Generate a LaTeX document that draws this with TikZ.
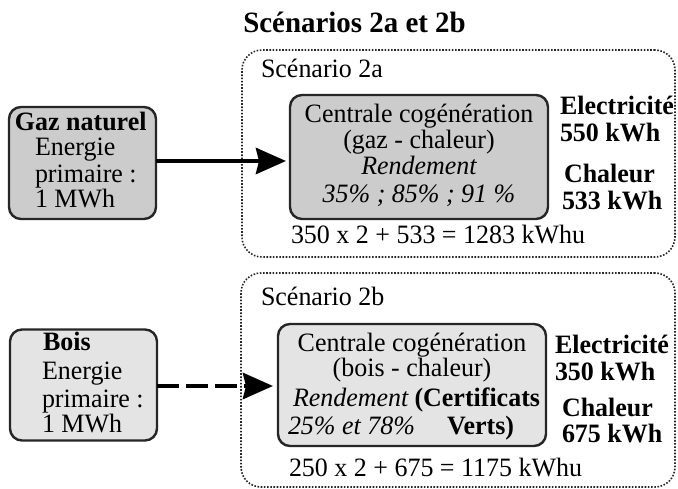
\documentclass[tikz,border=0pt]{standalone}
\usepackage{fontspec}
\setmainfont[FakeStretch=0.98]{Liberation Serif}
\usetikzlibrary{arrows.meta}
\definecolor{fillDark}{RGB}{204,204,204}
\definecolor{fillLight}{RGB}{228,228,228}
\begin{document}
\begin{tikzpicture}[x=1pt,y=-1pt,
  every node/.style={inner sep=0pt, outer sep=0pt, font=\fontsize{26.5}{26}\selectfont},
  rbox/.style={rectangle, draw=black!85, line width=2.4pt, rounded corners=12pt},
  scen/.style={rectangle, draw=black!85, line width=1.6pt, dash pattern=on 1.6pt off 1.6pt, rounded corners=20pt},
  txt/.style={anchor=base west},
  ctxt/.style={anchor=base},
  ittxt/.style={anchor=base, font=\fontsize{26.5}{26}\selectfont\itshape},
  btxt/.style={anchor=base west, font=\fontsize{26.5}{26}\selectfont\bfseries},
  flow/.style={line width=4.5pt, -{Stealth[length=30pt,width=26pt,inset=3pt]}}
]
\useasboundingbox (0,0) rectangle (678,489);

% title
\node[anchor=base, font=\fontsize{29.5}{30}\selectfont\bfseries] (title) at (354.5,33) {Scénarios 2a et 2b};

% scenario frames
\node[scen, minimum width=433pt, minimum height=207pt] (s2a) at (458.5,153.5) {};
\node[scen, minimum width=434pt, minimum height=214pt] (s2b) at (458,380) {};
\node[txt] (s2alab) at (261,78) {Scénario 2a};
\node[txt] (s2blab) at (261,306) {Scénario 2b};

% source boxes
\node[rbox, fill=fillDark, minimum width=147pt, minimum height=112pt] (gaz) at (82.5,163) {};
\node[rbox, fill=fillLight, minimum width=147pt, minimum height=111pt] (bois) at (83.5,385) {};

% plants
\node[rbox, fill=fillDark, minimum width=258pt, minimum height=124pt] (c2a) at (419,157) {};
\node[rbox, fill=fillLight, minimum width=268pt, minimum height=122pt] (c2b) at (412,385) {};

% arrows
\draw[flow, shorten >=4pt] ([yshift=2pt]gaz.east) -- ([yshift=2pt]gaz.east -| c2a.west);
\draw[flow, shorten >=5pt, dash pattern=on 22pt off 7pt] ([yshift=-1pt]bois.east) -- ([yshift=-1pt]bois.east -| c2b.west);

% gaz text
\node[btxt] (gaz1) at (15,131) {Gaz naturel};
\node[txt] (gaz2) at (35,156) {Energie};
\node[txt] (gaz3) at (35,183) {primaire :};
\node[txt] (gaz4) at (35,208) {1 MWh};

% bois text
\node[btxt] (bois1) at (43,351) {Bois};
\node[txt] (bois2) at (42,380) {Energie};
\node[txt] (bois3) at (42,407) {primaire :};
\node[txt] (bois4) at (42,432) {1 MWh};

% plant 2a text
\node[ctxt] (c2a1) at (419,123) {Centrale cogénération};
\node[ctxt] (c2a2) at (419,149) {(gaz - chaleur)};
\node[ittxt] (c2a3) at (419,175) {Rendement};
\node[ittxt] (c2a4) at (419,203) {35\% ; 85\% ; 91 \%};

% plant 2b text
\node[ctxt] (c2b1) at (412,352) {Centrale cogénération};
\node[ctxt] (c2b2) at (412,377) {(bois - chaleur)};
\node[anchor=base west, font=\fontsize{26.5}{26}\selectfont\itshape] (c2b3) at (293,406) {Rendement};
\node[anchor=base east, font=\fontsize{26.5}{26}\selectfont\bfseries] (c2b4) at (540,406) {(Certificats};
\node[anchor=base west, font=\fontsize{26.5}{26}\selectfont\itshape] (c2b5) at (288,434) {25\% et 78\%};
\node[anchor=base east, font=\fontsize{26.5}{26}\selectfont\bfseries] (c2b6) at (514,434) {Verts)};

% outputs 2a
\node[btxt] (e2a) at (560,115) {Electricité};
\node[btxt] (e2av) at (560,142) {550 kWh};
\node[btxt] (h2a) at (564,183) {Chaleur};
\node[btxt] (h2av) at (562,210) {533 kWh};

% outputs 2b
\node[btxt] (e2b) at (555,354) {Electricité};
\node[btxt] (e2bv) at (555,381) {350 kWh};
\node[btxt] (h2b) at (562,416) {Chaleur};
\node[btxt] (h2bv) at (562,442) {675 kWh};

% formulas
\node[txt] (f2a) at (291,244) {350 x 2 + 533 = 1283 kWhu};
\node[txt] (f2b) at (289,476) {250 x 2 + 675 = 1175 kWhu};
\end{tikzpicture}
\end{document}
